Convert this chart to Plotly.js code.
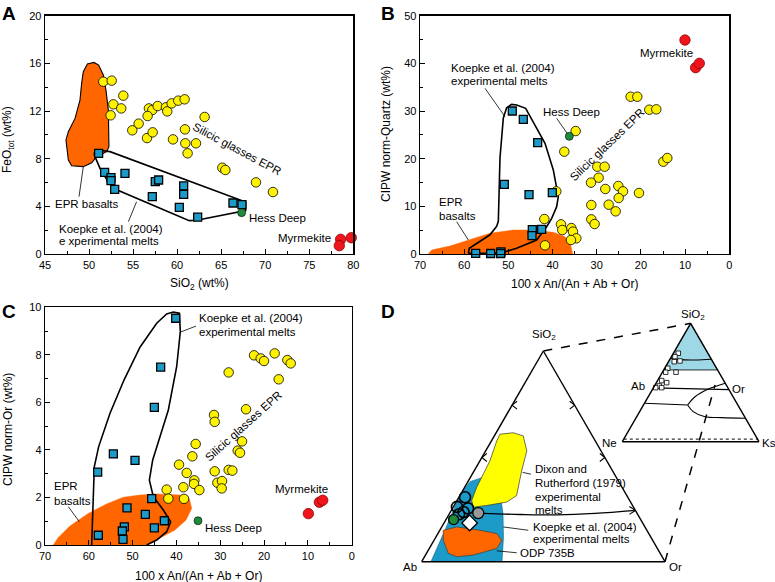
<!DOCTYPE html>
<html><head><meta charset="utf-8">
<script src="https://cdn.plot.ly/plotly-3.0.1.min.js"></script>
<style>body{margin:0;background:#fff}#chart{width:775px;height:582px}</style>
</head><body><div id="chart"></div>
<script>
// ---------- Panel A: FeOtot vs SiO2 ----------
const aGlassSiO2 = [51.62,52.57,52.76,53.89,52.45,53.66,54.91,55.63,56.80,57.18,57.79,56.65,56.58,57.22,58.73,58.88,59.38,60.13,60.85,59.53,60.89,60.93,61.19,62.14,63.12,65.13,65.47,68.95,70.88];
const aGlassFeO  = [14.46,14.55,12.56,13.29,11.64,12.22,10.38,10.94,12.22,12.08,12.42,11.58,9.73,10.21,12.31,11.97,12.64,12.87,12.98,9.62,10.46,9.29,8.45,9.29,11.50,7.24,7.05,6.01,5.20];
const aKoepkeSiO2 = [51.09,51.77,52.49,52.49,52.91,54.08,57.52,57.90,57.18,60.74,60.74,60.25,62.33,66.34,67.36];
const aKoepkeFeO  = [8.45,6.85,6.41,6.15,5.43,6.77,6.07,6.21,4.81,5.71,5.01,3.92,3.10,4.28,4.14];
const aHessSiO2 = [67.32], aHessFeO = [3.47];
const aMyrSiO2 = [78.56,78.41,79.77], aMyrFeO = [1.23,0.70,1.37];
const aBasaltFieldSiO2 = [49.35,49.81,50.56,51.09,51.62,51.92,52.19,52.26,52.00,50.86,50.30,49.35,48.03,47.65,47.38,47.65,48.41,48.97,49.16,49.35];
const aBasaltFieldFeO  = [15.30,15.94,16.08,15.86,15.02,13.76,12.08,9.01,8.59,8.17,7.66,7.33,7.41,7.89,9.57,10.27,11.38,12.92,14.32,15.30];
const aKoepkeFieldSiO2 = [50.56,50.94,52.38,67.78,67.78,62.22,61.38,60.32,53.21,51.92,51.24,50.68,50.56];
const aKoepkeFieldFeO  = [8.45,8.73,8.59,4.36,3.64,2.83,2.80,3.13,5.37,6.35,7.19,8.17,8.45];
const aLeaderSiO2 = [49.35,48.86,null,55.40,54.46];
const aLeaderFeO  = [7.33,4.81,null,4.39,2.71];

// ---------- Panel B: norm-Quartz vs An ----------
const bGlassAn = [22.33,20.82,18.10,16.52,14.93,14.03,34.77,37.34,29.87,29.57,28.21,31.30,28.06,25.12,24.06,25.04,20.44,31.23,27.30,25.72,31.23,30.48,39.15,41.86,38.09,37.79,35.75,35.38,34.62,35.83,41.71];
const bGlassQz = [33.0,33.0,30.28,30.35,19.37,20.14,25.80,21.47,18.32,16.01,18.32,14.97,13.64,14.27,13.15,11.75,12.80,10.28,10.35,8.95,7.27,6.29,13.15,7.34,6.22,5.03,5.45,4.69,3.29,2.94,1.82];
const bKoepkeAn = [49.11,46.62,43.37,50.92,45.33,40.05,44.58,42.47,44.65,57.40,54.01,51.67,51.75];
const bKoepkeQz = [30.0,28.25,23.36,14.62,12.45,12.87,5.10,5.17,3.85,0.15,0.10,0.45,0.10];
const bHessAn = [36.21], bHessQz = [24.69];
const bMyrAn = [10.03,7.62,6.79], bMyrQz = [44.9,39.1,40.0];
const bKoepkeFieldAn = [59.06,58.84,54.16,52.65,52.27,51.90,51.14,50.39,49.26,48.12,46.09,43.98,41.71,39.83,38.70,39.07,40.20,41.34,43.60,48.12,51.90,59.06];
const bKoepkeFieldQz = [0.14,1.19,4.03,5.80,6.85,20.14,28.53,30.70,31.40,31.26,30.56,27.06,23.22,17.62,12.03,9.93,7.48,5.73,2.94,1.19,0.14,0.14];
const bBasaltFieldAn = [68.11,67.36,63.21,59.06,54.16,48.88,45.11,39.83,37.19,35.90,35.45,68.11];
const bBasaltFieldQz = [0,0.84,1.68,2.94,4.34,5.03,5.03,4.55,3.64,1.89,0,0];
const bLeaderAn = [55.29,50.76,null,39.07,36.43,null,61.70,59.06];
const bLeaderQz = [34.76,28.81,null,28.46,24.97,null,6.78,2.94];

// ---------- Panel C: norm-Or vs An ----------
const cGlassAn = [22.29,20.77,20.01,17.58,14.69,13.92,16.66,28.08,24.12,31.42,31.27,35.61,25.03,26.02,25.49,39.41,36.37,37.66,31.27,28.08,27.24,35.91,35.99,30.66,29.60,29.67,34.77,42.23,38.42,41.85,38.27];
const cGlassOr = [7.98,7.85,7.74,8.06,7.78,7.64,6.97,7.26,5.71,5.47,5.18,4.25,4.36,3.97,3.88,3.38,3.73,3.03,3.10,3.16,3.13,2.72,2.57,2.62,2.69,2.38,2.31,2.33,2.43,1.95,1.94];
const cKoepkeAn = [40.17,43.60,45.04,54.40,49.46,57.98,45.65,51.28,47.10,42.76,57.83,51.89,52.35,52.20,45.04];
const cKoepkeOr = [9.54,7.48,5.79,3.83,3.56,3.07,1.95,1.56,1.29,1.02,0.41,0.76,0.59,0.24,0.72];
const cHessAn = [35.08], cHessOr = [1.02];
const cMyrAn = [9.89,7.38,6.62], cMyrOr = [1.32,1.80,1.88];
const cKoepkeFieldAn = [59.35,59.12,58.74,57.75,55.16,51.97,48.32,44.51,42.23,40.71,39.34,39.11,39.95,41.85,43.90,45.42,46.18,45.27,42.99,41.32,42.23,44.51,46.79];
const cKoepkeFieldOr = [0,1.05,3.30,4.14,5.54,6.94,8.32,9.33,9.72,9.80,9.75,8.98,7.50,5.68,4.42,3.58,2.73,2.03,1.47,0.98,0.56,0.21,0];
const cBasaltFieldAn = [68.10,66.96,64.29,60.11,55.92,52.12,48.32,44.51,39.19,37.05,36.52,37.82,40.33,43.37,46.79,68.10];
const cBasaltFieldOr = [0,0.32,0.80,1.33,1.73,2.01,2.10,2.15,2.10,1.94,1.54,1.05,0.63,0.32,0,0];
const cLeaderAn = [39.19,35.53,null,64.67,62.16];
const cLeaderOr = [8.95,9.21,null,1.61,0.98];

// ---------- Panel D: ternary SiO2 (a) - Ab (b) - Or (c) ----------
const dKoepkeA = [0,14.9,26.7,33.8,38.0,39.9,37.5,32.8,22.9,11.6,0];
const dKoepkeB = [96.2,83.0,72.8,65.9,61.15,55.3,52.0,51.4,55.15,60.6,67.0];
const dKoepkeC = [3.8,2.1,0.5,0.3,0.85,4.8,10.5,15.8,21.95,27.8,33.0];
const dDixonA = [60.5,61.2,59.7,52.6,43.2,31.4,28.3,26.7,25.9,29.1,35.3,47.9,57.3,60.5];
const dDixonB = [37.6,31.75,28.4,30.5,37.3,45.3,50.9,59.9,65.85,64.9,59.75,48.0,40.5,37.6];
const dDixonC = [1.9,7.05,11.9,16.9,19.5,23.3,20.8,13.4,8.25,6.0,4.95,4.1,2.2,1.9];
const dOdpA = [14.9,16.5,14.9,13.4,10.2,6.3,3.16,2.36,3.96,10.2,14.9];
const dOdpB = [83.7,77.35,68.6,62.5,62.0,66.0,77.24,84.44,87.09,86.03,83.7];
const dOdpC = [1.4,6.15,16.5,24.1,27.8,27.7,19.6,13.2,8.95,3.77,1.4];
const dOpenA = [26.0,23.6,25.3,22.5], dOpenB = [72.5,71.0,68.3,73.4], dOpenC = [1.5,5.4,6.4,4.1];
const dBlueA = [30.6], dBlueB = [66.9], dBlueC = [2.5];
const dGreyA = [23.1], dGreyB = [65.2], dGreyC = [11.7];
const dGreenA = [20.0], dGreenB = [76.9], dGreenC = [3.1];
const dDiamondA = [18.4], dDiamondB = [71.1], dDiamondC = [10.5];
const dCotecticA = [22.9,22.4,22.2,22.9,24.35];
const dCotecticB = [63.4,48.4,33.4,17.3,0];
const dCotecticC = [13.7,29.2,44.4,59.8,75.65];
const dArrowsA = [76.17,74.28,72.40,null,51.34,49.46,47.57,null,76.17,74.28,72.40,null,51.34,49.46,47.57,null,26.23,24.35,22.47];
const dArrowsB = [22.72,25.72,24.61,null,47.54,50.54,49.43,null,1.11,0,2.99,null,1.12,0,3.0,null,1.52,0,3.39];
const dArrowsC = [1.11,0,2.99,null,1.12,0,3.0,null,22.72,25.72,24.61,null,47.54,50.54,49.43,null,72.25,75.65,74.14];
const dLeaderA = [42.39,41.54,null,16.49,14.93,null,5.18,4.24];
const dLeaderB = [37.3,34.31,null,58.21,48.73,null,66.58,58.83];
const dLeaderC = [20.3,24.15,null,25.3,36.34,null,28.24,36.93];

// inset ternary SiO2 (a) - Ne (b) - Ks (c)
const eFieldA = [100,60.6,60.6,100], eFieldB = [0,39.4,0,0], eFieldC = [0,0,39.4,0];
const eLinesA = [70.5,69.3,69.06,69.2,69.65,null,45.5,44.0,null,32.46,31.0,null,31.0,38.0,44.5,49.4,null,31.0,25.4,21.1,20.3,19.8];
const eLinesB = [29.5,22.7,14.74,6.8,0,null,54.5,0,null,67.54,36.7,null,36.7,27.8,14.8,0,null,36.7,35.4,28.95,17.1,0];
const eLinesC = [0,8,16.2,24,30.35,null,0,56.0,null,0,32.3,null,32.3,34.2,40.7,50.6,null,32.3,39.2,49.95,62.6,80.2];
const eBaseA = [2.2,2.2], eBaseB = [97.8,0], eBaseC = [0,97.8];
const eSqA = [74.7,71.85,68.2,67.6,62.05,58.7,58.7,51.6,49.9,47.1,45.65,45.65];
const eSqB = [21.7,25.55,23.7,28.2,35.75,38.9,31.35,45.4,42.6,49.4,48.35,52.75];
const eSqC = [3.6,2.6,8.1,4.2,2.2,2.4,9.95,3.0,7.5,3.5,6.0,1.6];

// ---------- styling ----------
const FW = 775, FH = 582;
const ORANGE = '#FF6600', YELLOW = '#FFF200', BLUE = '#1C9BC9', GREEN = '#1E8C3A', RED = '#F0141C';
const FONT = 'Liberation Sans, Arial, Helvetica, sans-serif';
const yellowM = {symbol:'circle', size:9.5, color:YELLOW, line:{color:'#000', width:0.8}};
const blueM = {symbol:'square', size:8, color:BLUE, line:{color:'#000', width:1.3}};
const greenM = {symbol:'circle', size:8, color:GREEN, line:{color:'#000', width:0.6}};
const redM = {symbol:'circle', size:10.5, color:RED, line:{color:'#7a0000', width:0.7}};

function sc(x, y, ax, ay, extra){
  return Object.assign({type:'scatter', x:x, y:y, xaxis:ax, yaxis:ay, hoverinfo:'skip', showlegend:false, cliponaxis:false}, extra);
}
function tern(sub, a, b, c, extra){
  return Object.assign({type:'scatterternary', subplot:sub, a:a, b:b, c:c, hoverinfo:'skip', showlegend:false, cliponaxis:false}, extra);
}

const data = [
  // A
  sc(aBasaltFieldSiO2, aBasaltFieldFeO, 'x', 'y', {mode:'lines', fill:'toself', fillcolor:ORANGE, line:{color:'#000', width:1.1}}),
  sc(aKoepkeFieldSiO2, aKoepkeFieldFeO, 'x', 'y', {mode:'lines', line:{color:'#000', width:1.6}}),
  sc(aLeaderSiO2, aLeaderFeO, 'x', 'y', {mode:'lines', line:{color:'#000', width:0.8}}),
  sc(aGlassSiO2, aGlassFeO, 'x', 'y', {mode:'markers', marker:yellowM}),
  sc(aKoepkeSiO2, aKoepkeFeO, 'x', 'y', {mode:'markers', marker:blueM}),
  sc(aHessSiO2, aHessFeO, 'x', 'y', {mode:'markers', marker:greenM}),
  sc(aMyrSiO2, aMyrFeO, 'x', 'y', {mode:'markers', marker:redM}),
  // B
  sc(bBasaltFieldAn, bBasaltFieldQz, 'x2', 'y2', {mode:'lines', fill:'toself', fillcolor:ORANGE, line:{color:ORANGE, width:0.5}}),
  sc(bKoepkeFieldAn, bKoepkeFieldQz, 'x2', 'y2', {mode:'lines', line:{color:'#000', width:1.6}}),
  sc(bLeaderAn, bLeaderQz, 'x2', 'y2', {mode:'lines', line:{color:'#000', width:0.8}}),
  sc(bGlassAn, bGlassQz, 'x2', 'y2', {mode:'markers', marker:yellowM}),
  sc(bKoepkeAn, bKoepkeQz, 'x2', 'y2', {mode:'markers', marker:blueM}),
  sc(bHessAn, bHessQz, 'x2', 'y2', {mode:'markers', marker:greenM}),
  sc(bMyrAn, bMyrQz, 'x2', 'y2', {mode:'markers', marker:redM}),
  // C
  sc(cBasaltFieldAn, cBasaltFieldOr, 'x3', 'y3', {mode:'lines', fill:'toself', fillcolor:ORANGE, line:{color:ORANGE, width:0.5}}),
  sc(cKoepkeFieldAn, cKoepkeFieldOr, 'x3', 'y3', {mode:'lines', line:{color:'#000', width:1.6}}),
  sc(cLeaderAn, cLeaderOr, 'x3', 'y3', {mode:'lines', line:{color:'#000', width:0.8}}),
  sc(cGlassAn, cGlassOr, 'x3', 'y3', {mode:'markers', marker:yellowM}),
  sc(cKoepkeAn, cKoepkeOr, 'x3', 'y3', {mode:'markers', marker:blueM}),
  sc(cHessAn, cHessOr, 'x3', 'y3', {mode:'markers', marker:greenM}),
  sc(cMyrAn, cMyrOr, 'x3', 'y3', {mode:'markers', marker:redM}),
  // D main ternary
  tern('ternary', dKoepkeA, dKoepkeB, dKoepkeC, {mode:'lines', fill:'toself', fillcolor:BLUE, line:{color:'#0d5f80', width:0.6}}),
  tern('ternary', dDixonA, dDixonB, dDixonC, {mode:'lines', fill:'toself', fillcolor:'#FFFF00', line:{color:'#333', width:0.7}}),
  tern('ternary', dOdpA, dOdpB, dOdpC, {mode:'lines', fill:'toself', fillcolor:ORANGE, line:{color:'#333', width:0.6}}),
  tern('ternary', dCotecticA, dCotecticB, dCotecticC, {mode:'lines', line:{color:'#000', width:1.3, shape:'spline'}}),
  tern('ternary', dArrowsA, dArrowsB, dArrowsC, {mode:'lines', line:{color:'#000', width:1.1}}),
  tern('ternary', dLeaderA, dLeaderB, dLeaderC, {mode:'lines', line:{color:'#000', width:0.8}}),
  tern('ternary', dBlueA, dBlueB, dBlueC, {mode:'markers', marker:{symbol:'circle', size:11, color:BLUE, line:{color:'#000', width:1.6}}}),
  tern('ternary', dOpenA, dOpenB, dOpenC, {mode:'markers', marker:{symbol:'circle-open', size:11, color:'#000', line:{color:'#000', width:1.6}}}),
  tern('ternary', dGreyA, dGreyB, dGreyC, {mode:'markers', marker:{symbol:'circle', size:11, color:'#999', line:{color:'#000', width:1.3}}}),
  tern('ternary', dGreenA, dGreenB, dGreenC, {mode:'markers', marker:{symbol:'circle', size:10, color:GREEN, line:{color:'#000', width:1.3}}}),
  tern('ternary', dDiamondA, dDiamondB, dDiamondC, {mode:'markers', marker:{symbol:'diamond', size:12, color:'#fff', line:{color:'#000', width:1.3}}}),
  // D inset ternary
  tern('ternary2', eFieldA, eFieldB, eFieldC, {mode:'lines', fill:'toself', fillcolor:'#9ED8E6', line:{color:'#000', width:0.8}}),
  tern('ternary2', eLinesA, eLinesB, eLinesC, {mode:'lines', line:{color:'#000', width:1.1, shape:'spline'}}),
  tern('ternary2', eBaseA, eBaseB, eBaseC, {mode:'lines', line:{color:'#000', width:1, dash:'dot'}}),
  tern('ternary2', eSqA, eSqB, eSqC, {mode:'markers', marker:{symbol:'square', size:4.5, color:'#fff', line:{color:'#000', width:0.8}}})
];

function P(px, py){ return {x: px / FW, y: 1 - py / FH}; }
function axBase(extra){
  return Object.assign({showline:true, linecolor:'#000', linewidth:1.3, mirror:true, ticks:'inside', ticklen:5,
    tickwidth:1, tickcolor:'#000', showgrid:false, zeroline:false, fixedrange:true,
    tickfont:{size:11, color:'#000', family:FONT}}, extra);
}
function minor(d){ return {ticks:'inside', ticklen:3, tickwidth:1, tickcolor:'#000', dtick:d, showgrid:false}; }
const ternAxis = {showticklabels:false, ticks:'', showgrid:false, showline:true, linecolor:'#000', linewidth:1.4, title:{text:''}};

const mainDom = {x:[421.7/FW, 665/FW], y:[0, 0.43178]};
const insetDom = {x:[622.3/FW, 759/FW], y:[0.19277, 0.49277]};
// position in paper coordinates of a composition inside a ternary subplot, following Plotly's ternary fitting
function ternToPaper(dom, a, b, c){
  const wmax = (dom.x[1]-dom.x[0])*FW, hmax = (dom.y[1]-dom.y[0])*FH, r = 2/Math.sqrt(3);
  let w, h; if (wmax > r*hmax){ h = hmax; w = h*r; } else { w = wmax; h = w/r; }
  const cx = FW*(dom.x[0]+dom.x[1])/2, cy = FH*(1-(dom.y[0]+dom.y[1])/2);
  const s = a+b+c, A = a/s, C = c/s;
  const px = cx - w/2 + w*(C + A/2), py = cy - h/2 + h*(1-A);
  return [px/FW, 1-py/FH];
}
const apexMain = ternToPaper(mainDom, 100, 0, 0), apexInset = ternToPaper(insetDom, 100, 0, 0);
const orMain = ternToPaper(mainDom, 0, 0, 100), orInset = ternToPaper(insetDom, 47.9, 8.2, 43.9);

const ann = [];
function T(xref, yref, x, y, text, extra){
  ann.push(Object.assign({xref:xref, yref:yref, x:x, y:y, text:text, showarrow:false, xanchor:'left', yanchor:'middle',
    font:{size:11.5, color:'#000', family:FONT}}, extra));
}
function TP(px, py, text, extra){ const p = P(px, py); T('paper', 'paper', p.x, p.y, text, extra); }

// panel letters
const lf = {size:19, color:'#000', family:FONT};
TP(9, 13, '<b>A</b>', {xanchor:'center', font:lf});
TP(388, 13, '<b>B</b>', {xanchor:'center', font:lf});
TP(9, 311, '<b>C</b>', {xanchor:'center', font:lf});
TP(388, 311, '<b>D</b>', {xanchor:'center', font:lf});
// axis titles
const tf = {size:12, color:'#000', family:FONT};
TP(8, 140, 'FeO<sub>tot</sub> (wt%)', {xanchor:'center', textangle:-90, font:tf});
TP(199, 283.5, 'SiO<sub>2</sub> (wt%)', {xanchor:'center', font:tf});
TP(386, 134, 'CIPW norm-Quartz (wt%)', {xanchor:'center', textangle:-90, font:tf});
TP(574, 283.5, '100 x An/(An + Ab + Or)', {xanchor:'center', font:tf});
TP(8, 430, 'CIPW norm-Or (wt%)', {xanchor:'center', textangle:-90, font:tf});
TP(198, 576, '100 x An/(An + Ab + Or)', {xanchor:'center', font:tf});
// panel A labels
T('x', 'y', 49.73, 4.20, 'EPR basalts', {xanchor:'center'});
T('x', 'y', 46.32, 2.07, 'Koepke et al. (2004)');
T('x', 'y', 46.32, 1.12, 'e xperimental melts');
T('x', 'y', 66.83, 8.84, 'Silicic glasses EPR', {xanchor:'center', textangle:28});
T('x', 'y', 67.89, 2.99, 'Hess Deep');
T('x', 'y', 77.73, 1.37, 'Myrmekite', {xanchor:'right'});
// panel B labels
T('x2', 'y2', 63.44, 39.09, 'Koepke et al. (2004)');
T('x2', 'y2', 63.44, 36.29, 'experimental melts');
T('x2', 'y2', 42.62, 29.72, 'Hess Deep');
T('x2', 'y2', 27.76, 22.87, 'Silicic glasses EPR', {xanchor:'center', textangle:-44});
T('x2', 'y2', 66.23, 10.98, 'EPR');
T('x2', 'y2', 66.23, 7.97, 'basalts');
T('x2', 'y2', 20.59, 42.1, 'Myrmekite');
// panel C labels
T('x3', 'y3', 35.38, 9.54, 'Koepke et al. (2004)');
T('x3', 'y3', 35.38, 8.95, 'experimental melts');
T('x3', 'y3', 24.73, 5.01, 'Silicic glasses EPR', {xanchor:'center', textangle:-42});
T('x3', 'y3', 68.48, 2.48, 'EPR');
T('x3', 'y3', 68.48, 1.87, 'basalts');
T('x3', 'y3', 33.86, 0.73, 'Hess Deep');
T('x3', 'y3', 17.88, 2.37, 'Myrmekite');
// panel D labels
TP(544, 335, 'SiO<sub>2</sub>', {xanchor:'center'});
TP(419, 566.7, 'Ab', {xanchor:'right'});
TP(667, 566.7, 'Or');
TP(693, 315, 'SiO<sub>2</sub>', {xanchor:'center'});
TP(646.7, 386, 'Ab', {xanchor:'right'});
TP(730, 389, 'Or');
TP(619.3, 442.7, 'Ne', {xanchor:'right'});
TP(760, 442.7, 'Ks');
TP(532.7, 469.3, 'Dixon and');
TP(532.7, 482.7, 'Rutherford (1979)');
TP(532.7, 496.7, 'experimental');
TP(532.7, 510, 'melts');
TP(530.7, 526.7, 'Koepke et al. (2004)');
TP(530.7, 539.3, 'experimental melts');
TP(518.3, 552.7, 'ODP 735B');

const layout = {
  width: FW, height: FH, margin:{l:0, r:0, t:0, b:0}, paper_bgcolor:'#fff', plot_bgcolor:'rgba(0,0,0,0)',
  showlegend:false, hovermode:false, font:{family:FONT, color:'#000'},
  xaxis: axBase({domain:[45/FW, 353.3/FW], anchor:'y', range:[45,80], dtick:5, minor:minor(2.5)}),
  yaxis: axBase({domain:[1-254/FH, 1-15.7/FH], anchor:'x', range:[0,20], dtick:4, minor:minor(2)}),
  xaxis2: axBase({domain:[420/FW, 729.3/FW], anchor:'y2', range:[70,0], dtick:10, minor:minor(5)}),
  yaxis2: axBase({domain:[1-254/FH, 1-15.7/FH], anchor:'x2', range:[0,50], dtick:10, minor:minor(5)}),
  xaxis3: axBase({domain:[45/FW, 351.7/FW], anchor:'y3', range:[70,0], dtick:10, minor:minor(5)}),
  yaxis3: axBase({domain:[1-545/FH, 1-307.3/FH], anchor:'x3', range:[0,10], dtick:2, minor:minor(1)}),
  ternary: {domain:mainDom, sum:100, bgcolor:'rgba(0,0,0,0)', aaxis:ternAxis, baxis:ternAxis, caxis:ternAxis},
  ternary2: {domain:insetDom, sum:100, bgcolor:'rgba(0,0,0,0)', aaxis:ternAxis, baxis:ternAxis, caxis:ternAxis},
  shapes: [
    {type:'line', xref:'paper', yref:'paper', x0:apexMain[0], y0:apexMain[1], x1:apexInset[0], y1:apexInset[1], line:{color:'#000', width:1.5, dash:'dash'}},
    {type:'line', xref:'paper', yref:'paper', x0:orMain[0], y0:orMain[1], x1:orInset[0], y1:orInset[1], line:{color:'#000', width:1.5, dash:'dash'}}
  ],
  annotations: ann
};
Plotly.newPlot('chart', data, layout, {staticPlot:true, displayModeBar:false}).then(function(gd){
  // drop the empty placeholder title nodes of the ternary axes
  gd.querySelectorAll('text').forEach(function(t){ if (!t.textContent.trim()) t.remove(); });
});
</script></body></html>
